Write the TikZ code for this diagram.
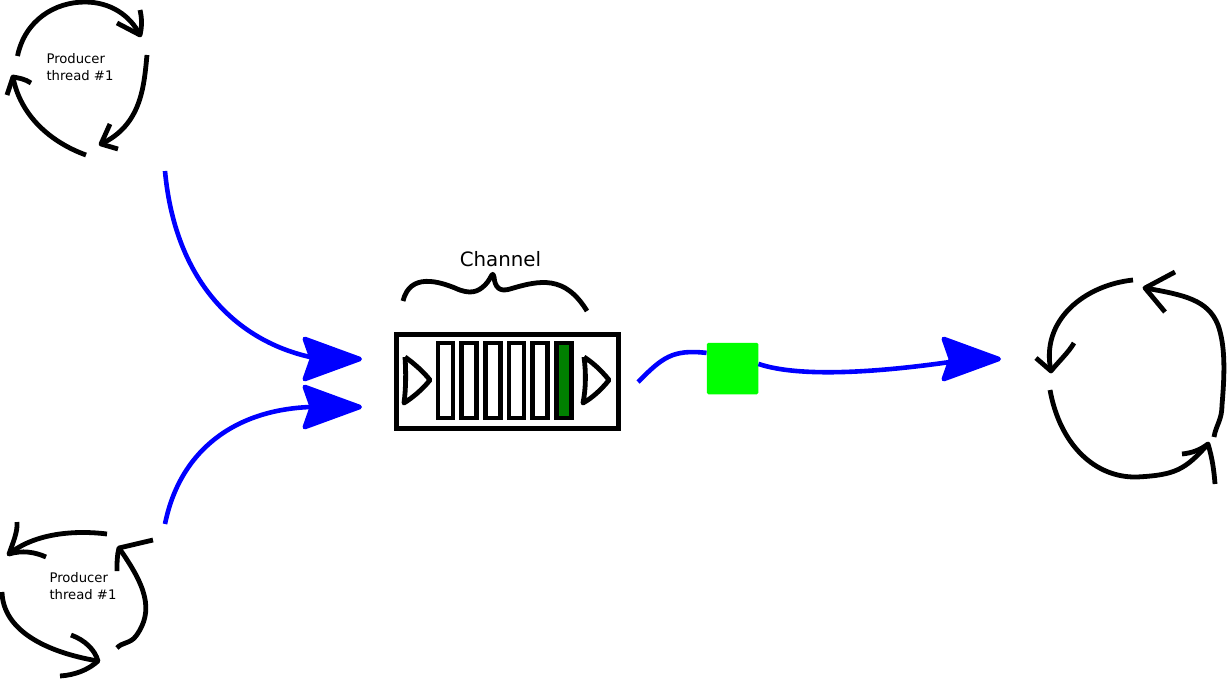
\documentclass[tikz,border=0pt]{standalone}
\usepackage{fontspec}
\setmainfont{DejaVu Sans}
\usetikzlibrary{arrows.meta}
\tikzset{
  sketch/.style={draw=black, line width=4.8pt, line join=round},
  flow/.style={draw=blue, line width=4.6pt, -{Stealth[length=65pt, width=47pt, inset=8pt, round]}},
  flowpart/.style={draw=blue, line width=4.6pt},
  slot/.style={draw=black, line width=4.6pt, minimum width=15pt, minimum height=75pt, inner sep=0pt, fill=white},
  label/.style={align=left, font=\fontsize{13.2}{16.5}\selectfont, inner sep=0pt},
}
\begin{document}
\begin{tikzpicture}[x=1pt, y=-1pt]
\useasboundingbox (0,0) rectangle (1228,678);
% nodes
\node[label] (producer1) at (80, 67) {Producer\\thread \#1};
\node[label] (producer2) at (83, 586) {Producer\\thread \#1};
\node[font=\fontsize{19.8}{24}\selectfont, inner sep=0pt] (channeltext) at (500.5, 259) {Channel};
\node[draw=black, line width=5pt, minimum width=222pt, minimum height=94pt, inner sep=0pt] (channel) at (507, 381) {};
\node[slot] (slot1) at (445.3, 380.5) {};
\node[slot] (slot2) at (469, 380.5) {};
\node[slot] (slot3) at (492.7, 380.5) {};
\node[slot] (slot4) at (516.3, 380.5) {};
\node[slot] (slot5) at (540, 380.5) {};
\node[slot, fill=green!50!black] (slot6) at (563.7, 380.5) {};
\node[fill=green, rounded corners=1.5pt, minimum size=51.5pt, inner sep=0pt] (token) at (732.5, 368.5) {};
\coordinate (in1)  at (165, 171);
\coordinate (in2)  at (165, 524);
\coordinate (out)  at (638, 382);
\coordinate (tip1) at (362, 359);
\coordinate (tip2) at (362, 407);
\coordinate (tip3) at (1001, 359);
% arrows
\draw[flow] (in1) .. controls (175, 280) and (235, 340) .. (310, 357) .. controls (330, 359) and (345, 359) .. (tip1);
\draw[flow] (in2) .. controls (180, 450) and (235, 410) .. (310, 407) .. controls (330, 407) and (345, 407) .. (tip2);
\draw[flowpart] (out) .. controls (662, 358) and (672, 349) .. (token.149);
\draw[flow] (token.10) .. controls (800, 378) and (880, 372) .. (950, 362) .. controls (970, 360) and (985, 359) .. (tip3);
% channel details
\draw[sketch] (403, 301) .. controls (410, 272) and (440, 282) .. (455, 288) .. controls (470, 295) and (478, 292) .. (485, 285) .. controls (492, 278) and (492, 270) .. (494, 277) .. controls (495, 288) and (500, 292) .. (510, 289) .. controls (540, 280) and (565, 275) .. (587, 311);
\draw[sketch] (405, 357) .. controls (412, 362) and (422, 370) .. (430, 380) .. controls (422, 390) and (412, 398) .. (404, 403) .. controls (406, 388) and (406, 372) .. (405, 357);
\draw[sketch] (584, 357) .. controls (592, 362) and (601, 370) .. (609, 380) .. controls (601, 390) and (592, 398) .. (583, 403) .. controls (586, 388) and (586, 372) .. (584, 357);
% top loop
\draw[sketch] (17.5, 56) .. controls (25, 20) and (55, 2) .. (85, 2) .. controls (110, 2) and (130, 15) .. (140, 35);
\draw[sketch] (117, 23) -- (140, 35) .. controls (142, 27) and (142, 18) .. (140, 10);
\draw[sketch] (147, 55) .. controls (144, 85) and (142, 125) .. (101, 144);
\draw[sketch] (110, 124) -- (101, 144) -- (118, 149);
\draw[sketch] (86, 155) .. controls (50, 142) and (20, 115) .. (13, 77);
\draw[sketch] (31, 83) .. controls (25, 79) and (19, 78) .. (13, 77) -- (7, 95);
% bottom loop
\draw[sketch] (107, 534) .. controls (75, 530) and (35, 533) .. (9, 554);
\draw[sketch] (17, 522) .. controls (18, 532) and (12, 545) .. (9, 554) .. controls (22, 550) and (35, 552) .. (46, 557);
\draw[sketch] (117, 648) .. controls (122, 642) and (130, 644) .. (136, 636) .. controls (155, 610) and (145, 585) .. (119, 548);
\draw[sketch] (153, 540) -- (119, 548) .. controls (117, 555) and (117, 563) .. (117, 571);
\draw[sketch] (2, 592) .. controls (3, 630) and (45, 652) .. (98, 661);
\draw[sketch] (71, 635) .. controls (85, 640) and (95, 650) .. (98, 661) .. controls (88, 670) and (75, 675) .. (60, 676);
% right loop
\draw[sketch] (1133, 280) .. controls (1085, 285) and (1040, 320) .. (1051, 371);
\draw[sketch] (1074, 343) .. controls (1068, 353) and (1060, 360) .. (1051, 371) -- (1036, 358);
\draw[sketch] (1050, 390) .. controls (1060, 445) and (1095, 478) .. (1137, 477) .. controls (1175, 475) and (1185, 470) .. (1208, 444);
\draw[sketch] (1182, 454) .. controls (1192, 453) and (1200, 450) .. (1208, 444) .. controls (1212, 457) and (1214, 470) .. (1215, 484);
\draw[sketch] (1214, 437) .. controls (1216, 425) and (1222, 420) .. (1222, 405) .. controls (1225, 370) and (1225, 345) .. (1218, 325) .. controls (1208, 300) and (1185, 295) .. (1145, 288);
\draw[sketch] (1175, 272) -- (1145, 288) -- (1165, 312);
\end{tikzpicture}
\end{document}
